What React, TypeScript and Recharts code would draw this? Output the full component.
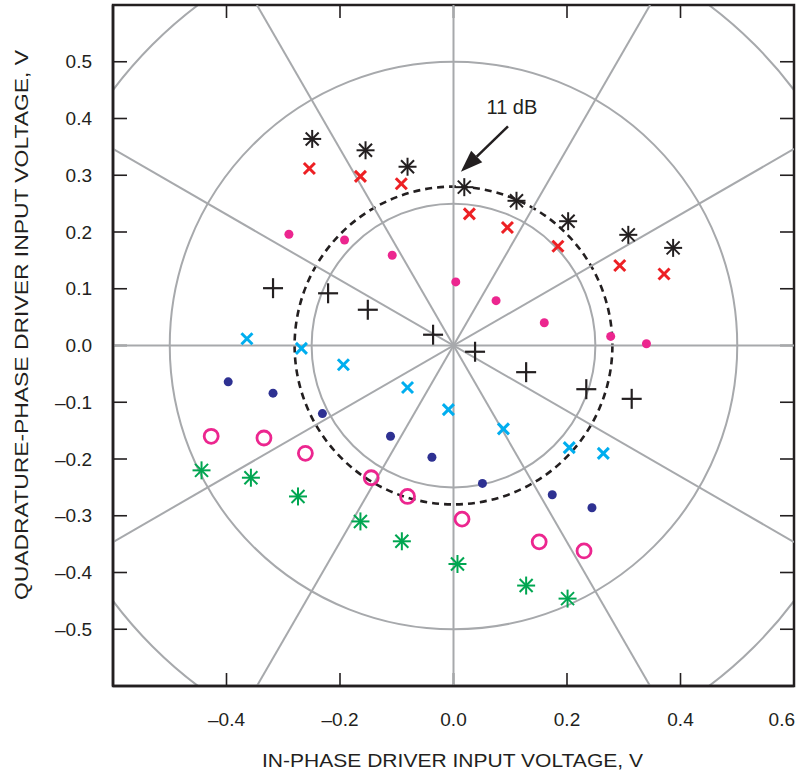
import React from "react";
import {
  ReferenceArea,
  ReferenceDot,
  ReferenceLine,
  Scatter,
  ScatterChart,
  XAxis,
  YAxis,
} from "recharts";

const FONT = "'Liberation Sans', Arial, Helvetica, sans-serif";
const INK = "#231f20";
const GRID = "#a7a9ac";

const LIM = 0.6;
const xTicks = [-0.4, -0.2, 0, 0.2, 0.4, 0.6];
const xTickMarks = [-0.4, -0.2, 0, 0.2, 0.4];
const yTicks = [-0.5, -0.4, -0.3, -0.2, -0.1, 0, 0.1, 0.2, 0.3, 0.4, 0.5];

// measured points, grouped by marker style
const blackStars = [
  { x: -0.249, y: 0.364 },
  { x: -0.155, y: 0.344 },
  { x: -0.081, y: 0.315 },
  { x: 0.019, y: 0.279 },
  { x: 0.111, y: 0.255 },
  { x: 0.202, y: 0.219 },
  { x: 0.308, y: 0.195 },
  { x: 0.387, y: 0.172 },
];
const redCrosses = [
  { x: -0.254, y: 0.312 },
  { x: -0.164, y: 0.298 },
  { x: -0.092, y: 0.285 },
  { x: 0.028, y: 0.232 },
  { x: 0.095, y: 0.208 },
  { x: 0.184, y: 0.175 },
  { x: 0.293, y: 0.141 },
  { x: 0.371, y: 0.126 },
];
const pinkDots = [
  { x: -0.29, y: 0.196 },
  { x: -0.192, y: 0.186 },
  { x: -0.108, y: 0.159 },
  { x: 0.004, y: 0.112 },
  { x: 0.075, y: 0.079 },
  { x: 0.16, y: 0.04 },
  { x: 0.277, y: 0.016 },
  { x: 0.34, y: 0.003 },
];
const blackPlus = [
  { x: -0.318, y: 0.101 },
  { x: -0.221, y: 0.092 },
  { x: -0.151, y: 0.063 },
  { x: -0.036, y: 0.019 },
  { x: 0.038, y: -0.011 },
  { x: 0.128, y: -0.047 },
  { x: 0.234, y: -0.077 },
  { x: 0.314, y: -0.094 },
];
const cyanCrosses = [
  { x: -0.364, y: 0.012 },
  { x: -0.268, y: -0.005 },
  { x: -0.194, y: -0.034 },
  { x: -0.081, y: -0.074 },
  { x: -0.009, y: -0.113 },
  { x: 0.088, y: -0.147 },
  { x: 0.204, y: -0.18 },
  { x: 0.264, y: -0.19 },
];
const navyDots = [
  { x: -0.397, y: -0.064 },
  { x: -0.318, y: -0.084 },
  { x: -0.231, y: -0.12 },
  { x: -0.111, y: -0.16 },
  { x: -0.038, y: -0.197 },
  { x: 0.051, y: -0.243 },
  { x: 0.174, y: -0.263 },
  { x: 0.244, y: -0.286 },
];
const pinkRings = [
  { x: -0.427, y: -0.16 },
  { x: -0.334, y: -0.163 },
  { x: -0.261, y: -0.19 },
  { x: -0.145, y: -0.233 },
  { x: -0.081, y: -0.266 },
  { x: 0.015, y: -0.306 },
  { x: 0.151, y: -0.346 },
  { x: 0.23, y: -0.362 },
];
const greenStars = [
  { x: -0.444, y: -0.22 },
  { x: -0.357, y: -0.233 },
  { x: -0.274, y: -0.266 },
  { x: -0.164, y: -0.31 },
  { x: -0.091, y: -0.345 },
  { x: 0.007, y: -0.385 },
  { x: 0.128, y: -0.423 },
  { x: 0.201, y: -0.446 },
];

const gridRadii = [0.25, 0.5, 0.75];
const markerRadius = 0.28;
const spokeAngles = [30, 60, 120, 150];
const arrowFrom = { x: 0.096, y: 0.386 };
const arrowTo = { x: 0.013, y: 0.306 };
const noteAt = { x: 0.103, y: 0.421 };

const fmt = (v: number) => {
  if (Math.abs(v) < 1e-9) return "0.0";
  return v < 0 ? "\u2013" + Math.abs(v).toFixed(1) : v.toFixed(1);
};

const spokeEnds = (deg: number) => {
  const a = (deg * Math.PI) / 180;
  const t = LIM / Math.max(Math.abs(Math.cos(a)), Math.abs(Math.sin(a)));
  const dx = t * Math.cos(a);
  const dy = t * Math.sin(a);
  return [
    { x: -dx, y: -dy },
    { x: dx, y: dy },
  ];
};

const ring =
  (stroke: string, width: number, dash?: string) => (p: any) => {
    const w = Math.abs(p.width);
    const h = Math.abs(p.height);
    const x = Math.min(p.x, p.x + p.width);
    const y = Math.min(p.y, p.y + p.height);
    return (
      <ellipse
        cx={x + w / 2}
        cy={y + h / 2}
        rx={w / 2}
        ry={h / 2}
        fill="none"
        stroke={stroke}
        strokeWidth={width}
        strokeDasharray={dash}
        clipPath={p.clipPath}
      />
    );
  };

// plot frame with inward ticks on all four sides
const frame = (p: any) => {
  const w = Math.abs(p.width);
  const h = Math.abs(p.height);
  const x = Math.min(p.x, p.x + p.width);
  const y = Math.min(p.y, p.y + p.height);
  const px = (v: number) => x + ((v + LIM) / (2 * LIM)) * w;
  const py = (v: number) => y + ((LIM - v) / (2 * LIM)) * h;
  return (
    <g>
      <g stroke={INK} strokeWidth={1.6}>
        {xTickMarks.map((v) => (
          <g key={`x${v}`}>
            <line x1={px(v)} y1={y} x2={px(v)} y2={y + 13} />
            <line x1={px(v)} y1={y + h} x2={px(v)} y2={y + h - 13} />
          </g>
        ))}
        {yTicks.map((v) => (
          <g key={`y${v}`}>
            <line x1={x} y1={py(v)} x2={x + 14} y2={py(v)} />
            <line x1={x + w} y1={py(v)} x2={x + w - 14} y2={py(v)} />
          </g>
        ))}
      </g>
      <rect x={x} y={y} width={w} height={h} fill="none" stroke={INK} strokeWidth={2.5} />
    </g>
  );
};

const starShape = (color: string) => (p: any) => {
  const { cx, cy } = p;
  const r = 9;
  const d = 6.5;
  return (
    <g stroke={color} strokeWidth={2}>
      <line x1={cx - r} y1={cy} x2={cx + r} y2={cy} />
      <line x1={cx} y1={cy - r} x2={cx} y2={cy + r} />
      <line x1={cx - d} y1={cy - d} x2={cx + d} y2={cy + d} />
      <line x1={cx - d} y1={cy + d} x2={cx + d} y2={cy - d} />
    </g>
  );
};

const crossShape = (color: string) => (p: any) => {
  const { cx, cy } = p;
  const h = 5.5;
  return (
    <g stroke={color} strokeWidth={3}>
      <line x1={cx - h} y1={cy - h} x2={cx + h} y2={cy + h} />
      <line x1={cx - h} y1={cy + h} x2={cx + h} y2={cy - h} />
    </g>
  );
};

const plusShape = (p: any) => {
  const { cx, cy } = p;
  const h = 10;
  return (
    <g stroke={INK} strokeWidth={2.2}>
      <line x1={cx - h} y1={cy} x2={cx + h} y2={cy} />
      <line x1={cx} y1={cy - h} x2={cx} y2={cy + h} />
    </g>
  );
};

const dotShape = (color: string) => (p: any) => (
  <circle cx={p.cx} cy={p.cy} r={4.5} fill={color} />
);

const openShape = (color: string) => (p: any) => (
  <circle cx={p.cx} cy={p.cy} r={7} fill="none" stroke={color} strokeWidth={2.8} />
);

const arrowShape = (p: any) => {
  const { x1, y1, x2, y2 } = p;
  const ang = Math.atan2(y2 - y1, x2 - x1);
  const L = 22;
  const W = 8;
  const bx = x2 - L * Math.cos(ang);
  const by = y2 - L * Math.sin(ang);
  const px = -Math.sin(ang) * W;
  const py = Math.cos(ang) * W;
  return (
    <g>
      <line x1={x1} y1={y1} x2={bx} y2={by} stroke={INK} strokeWidth={2.5} />
      <polygon
        points={`${x2},${y2} ${bx + px},${by + py} ${bx - px},${by - py}`}
        fill={INK}
      />
    </g>
  );
};

const noteLabel = ({ viewBox }: any) => (
  <text
    x={viewBox.x + (viewBox.width || 0) / 2}
    y={viewBox.y + (viewBox.height || 0) / 2}
    textAnchor="middle"
    dominantBaseline="central"
    fontSize={20}
    fontFamily={FONT}
    fill={INK}
  >
    11 dB
  </text>
);

const xTick = ({ x, y, payload }: any) => {
  const last = payload.value >= LIM;
  return (
    <text
      x={last ? x + 1 : x}
      y={y}
      dy="0.71em"
      textAnchor={last ? "end" : "middle"}
      fontSize={19}
      fontFamily={FONT}
      fill={INK}
    >
      {fmt(payload.value)}
    </text>
  );
};

const yTick = ({ x, y, payload }: any) => (
  <text
    x={x}
    y={y}
    textAnchor="end"
    dominantBaseline="central"
    fontSize={19}
    fontFamily={FONT}
    fill={INK}
  >
    {fmt(payload.value)}
  </text>
);

const xTitle = ({ viewBox }: any) => (
  <text
    x={viewBox.x + viewBox.width / 2 - 1}
    y={viewBox.y + 81}
    textAnchor="middle"
    fontSize={18}
    fontFamily={FONT}
    fill={INK}
    textLength={381}
    lengthAdjust="spacingAndGlyphs"
  >
    IN-PHASE DRIVER INPUT VOLTAGE, V
  </text>
);

const yTitle = ({ viewBox }: any) => {
  const cx = viewBox.x + 22;
  const cy = viewBox.y + 320;
  return (
    <text
      x={cx}
      y={cy}
      transform={`rotate(-90 ${cx} ${cy})`}
      textAnchor="middle"
      dominantBaseline="central"
      fontSize={18}
      fontFamily={FONT}
      fill={INK}
      textLength={550}
      lengthAdjust="spacingAndGlyphs"
    >
      QUADRATURE-PHASE DRIVER INPUT VOLTAGE, V
    </text>
  );
};

const axisLineStyle = { stroke: INK, strokeWidth: 2.5 };

export default function App() {
  return (
    <div style={{ position: "absolute", left: 0, top: 0, background: "#fff" }}>
      <ScatterChart
        width={800}
        height={778}
        margin={{ top: 5, right: 6, bottom: 0, left: 0 }}
      >
        <XAxis
          type="number"
          dataKey="x"
          domain={[-LIM, LIM]}
          allowDataOverflow
          ticks={xTicks}
          interval={0}
          height={92}
          tickSize={-13}
          tickMargin={40}
          tick={xTick}
          axisLine={axisLineStyle}
          tickLine={false}
          label={{ content: xTitle }}
        />
        <YAxis
          type="number"
          dataKey="y"
          domain={[-LIM, LIM]}
          allowDataOverflow
          ticks={yTicks}
          interval={0}
          width={113}
          tickSize={-14}
          tickMargin={35}
          tick={yTick}
          axisLine={axisLineStyle}
          tickLine={false}
          label={{ content: yTitle }}
        />

        {gridRadii.map((r) => (
          <ReferenceArea
            key={r}
            x1={-r}
            x2={r}
            y1={-r}
            y2={r}
            ifOverflow="hidden"
            shape={ring(GRID, 2)}
          />
        ))}
        <ReferenceLine x={0} stroke={GRID} strokeWidth={2} />
        <ReferenceLine y={0} stroke={GRID} strokeWidth={2} />
        {spokeAngles.map((a) => (
          <ReferenceLine
            key={a}
            segment={spokeEnds(a)}
            stroke={GRID}
            strokeWidth={2}
            ifOverflow="hidden"
          />
        ))}
        <ReferenceArea
          x1={-markerRadius}
          x2={markerRadius}
          y1={-markerRadius}
          y2={markerRadius}
          shape={ring(INK, 2.6, "7 5")}
        />
        <ReferenceArea x1={-LIM} x2={LIM} y1={-LIM} y2={LIM} shape={frame} />
        <ReferenceLine segment={[arrowFrom, arrowTo]} shape={arrowShape} />
        <ReferenceDot
          x={noteAt.x}
          y={noteAt.y}
          r={0}
          fill="none"
          stroke="none"
          label={{ content: noteLabel }}
        />

        <Scatter data={blackStars} shape={starShape(INK)} isAnimationActive={false} />
        <Scatter data={redCrosses} shape={crossShape("#ed2024")} isAnimationActive={false} />
        <Scatter data={pinkDots} shape={dotShape("#ec268f")} isAnimationActive={false} />
        <Scatter data={blackPlus} shape={plusShape} isAnimationActive={false} />
        <Scatter data={cyanCrosses} shape={crossShape("#00aeef")} isAnimationActive={false} />
        <Scatter data={navyDots} shape={dotShape("#2e3192")} isAnimationActive={false} />
        <Scatter data={pinkRings} shape={openShape("#ec268f")} isAnimationActive={false} />
        <Scatter data={greenStars} shape={starShape("#00a651")} isAnimationActive={false} />
      </ScatterChart>
    </div>
  );
}
